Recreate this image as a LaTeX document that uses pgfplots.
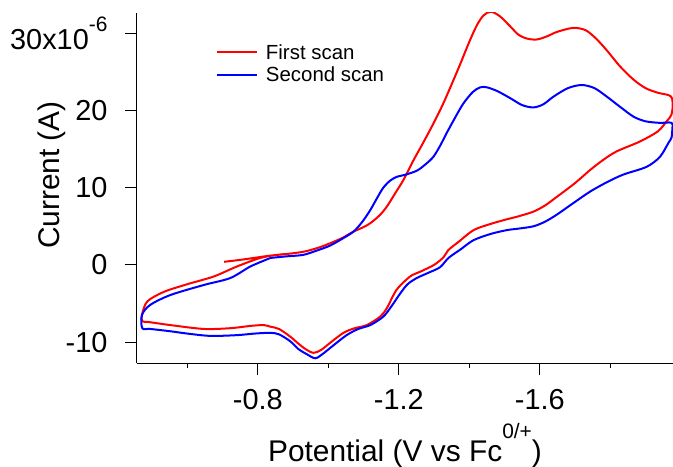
\documentclass[border=0pt]{standalone}
\usepackage{fontspec}
\setmainfont{Liberation Sans}
\usepackage{pgfplots}
\pgfplotsset{compat=1.18}

% First scan: starts at -0.70 V, sweeps cathodic to -1.98 V, back to -0.47 V
\pgfplotstableread{
E I
-0.704 0.4
-0.750 0.65
-0.789 0.9
-0.835 1.2
-0.880 1.4
-0.929 1.7
-0.970 2.2
-1.005 2.8
-1.040 3.5
-1.071 4.3
-1.100 4.9
-1.119 5.4
-1.145 6.4
-1.166 7.55
-1.190 9.3
-1.213 11.0
-1.241 13.5
-1.270 15.9
-1.298 18.3
-1.325 20.8
-1.350 23.4
-1.375 26.1
-1.400 28.9
-1.421 31.0
-1.440 32.3
-1.461 32.8
-1.487 32.2
-1.516 30.9
-1.540 29.8
-1.565 29.3
-1.592 29.2
-1.620 29.6
-1.650 30.2
-1.695 30.7
-1.730 30.4
-1.760 29.3
-1.790 27.8
-1.828 25.7
-1.866 24.0
-1.900 22.9
-1.935 22.3
-1.965 22.0
-1.975 21.6
-1.977 20.5
-1.973 19.4
-1.960 18.6
-1.935 17.3
-1.885 16.0
-1.818 14.7
-1.780 13.6
-1.743 12.3
-1.700 10.6
-1.648 8.8
-1.615 7.7
-1.582 6.9
-1.540 6.3
-1.506 5.9
-1.460 5.3
-1.412 4.5
-1.370 3.0
-1.340 1.9
-1.327 1.0
-1.300 0.0
-1.260 -0.9
-1.232 -1.5
-1.194 -3.2
-1.166 -5.6
-1.147 -6.7
-1.109 -7.8
-1.075 -8.2
-1.043 -8.8
-1.005 -10.1
-0.980 -11.0
-0.958 -11.4
-0.935 -10.9
-0.915 -10.2
-0.892 -9.3
-0.860 -8.3
-0.835 -8.0
-0.817 -7.8
-0.780 -7.9
-0.722 -8.2
-0.647 -8.3
-0.552 -7.8
-0.490 -7.4
-0.472 -7.3
-0.471 -6.5
-0.486 -4.75
-0.533 -3.5
-0.600 -2.5
-0.675 -1.5
-0.741 -0.2
-0.807 0.9
-0.855 1.3
-0.890 1.45
}\firstscan

% Second scan
\pgfplotstableread{
E I
-0.836 0.9
-0.880 1.1
-0.929 1.3
-0.970 1.9
-1.005 2.5
-1.040 3.4
-1.071 4.3
-1.095 5.5
-1.119 7.1
-1.140 8.8
-1.156 10.0
-1.175 10.9
-1.194 11.4
-1.220 11.7
-1.251 12.2
-1.275 13.0
-1.298 14.0
-1.318 15.5
-1.336 17.1
-1.360 19.1
-1.383 20.9
-1.410 22.4
-1.431 23.0
-1.450 23.0
-1.480 22.5
-1.516 21.6
-1.550 20.7
-1.582 20.4
-1.610 20.8
-1.639 21.8
-1.680 22.9
-1.719 23.3
-1.755 22.9
-1.790 21.8
-1.830 20.4
-1.866 19.2
-1.900 18.6
-1.940 18.4
-1.974 18.4
-1.976 17.5
-1.974 16.5
-1.965 15.8
-1.941 14.0
-1.903 12.7
-1.837 11.7
-1.790 10.7
-1.743 9.5
-1.695 8.0
-1.648 6.5
-1.615 5.6
-1.582 5.0
-1.540 4.7
-1.506 4.5
-1.460 4.0
-1.412 3.2
-1.375 2.0
-1.341 0.9
-1.317 -0.3
-1.285 -1.0
-1.251 -1.7
-1.225 -2.5
-1.204 -3.7
-1.180 -5.3
-1.156 -6.7
-1.119 -7.8
-1.085 -8.3
-1.052 -9.1
-1.015 -10.4
-0.985 -11.5
-0.963 -12.1
-0.940 -11.6
-0.915 -10.9
-0.892 -9.9
-0.860 -9.0
-0.835 -8.8
-0.790 -8.9
-0.741 -9.1
-0.666 -9.2
-0.600 -8.9
-0.552 -8.6
-0.495 -8.3
-0.472 -8.2
-0.471 -6.5
-0.494 -5.2
-0.552 -3.9
-0.647 -2.6
-0.722 -1.7
-0.779 -0.2
-0.836 0.9
}\secondscan

\begin{document}
\begin{tikzpicture}
\begin{axis}[
  name=ax,
  scale only axis,
  width=536bp, height=350bp,
  x dir=reverse,
  xmin=-1.978, xmax=-0.457,
  ymin=-12.71, ymax=32.63,
  axis x line*=bottom,
  axis y line*=left,
  axis line style={line width=1bp},
  tick align=outside,
  major tick length=12bp,
  minor tick length=5bp,
  tick style={line width=1bp, black},
  xtick={-0.8,-1.2,-1.6},
  xticklabels={-0.8,-1.2,-1.6},
  minor xtick={-0.6,-1.0,-1.4,-1.8},
  ytick={-10,0,10,20,30},
  yticklabels={-10,0,10,20,{30x10\raisebox{18bp}{\fontsize{21}{21}\selectfont -6}}},
  ticklabel style={font=\fontsize{29}{30}\selectfont},
  yticklabel style={xshift=-14bp},
  xticklabel style={yshift=-11bp},
  xlabel={Potential (V vs Fc\raisebox{23bp}{\fontsize{21}{21}\selectfont 0/+})},
  ylabel={Current (A)},
  every axis x label/.style={at={(axis description cs:0.5,-0.28)}, anchor=base,
    font=\fontsize{30}{32}\selectfont},
  every axis y label/.style={at={(axis description cs:-0.1437,0.537)}, rotate=90, anchor=base,
    font=\fontsize{30}{32}\selectfont},
  legend style={draw=none, fill=none, at={(axis description cs:0.147,0.917)}, anchor=north west,
    font=\fontsize{20.5}{24}\selectfont, inner sep=0pt, row sep=2bp,
    nodes={inner sep=2bp}},
  legend cell align=left,
  legend image code/.code={\draw[#1] (0bp,0bp) -- (40bp,0bp);},
]
\addplot[red, line width=2bp, smooth, tension=0.5] table[x=E, y=I] {\firstscan};
\addlegendentry{\hspace{6bp}First scan}
\addplot[blue, line width=2bp, smooth, tension=0.5] table[x=E, y=I] {\secondscan};
\addlegendentry{\hspace{6bp}Second scan}
\end{axis}
\pgfresetboundingbox
\path[use as bounding box] ([xshift=-137bp,yshift=-104bp]ax.south west) rectangle ([yshift=13bp]ax.north east);
\end{tikzpicture}
\end{document}
